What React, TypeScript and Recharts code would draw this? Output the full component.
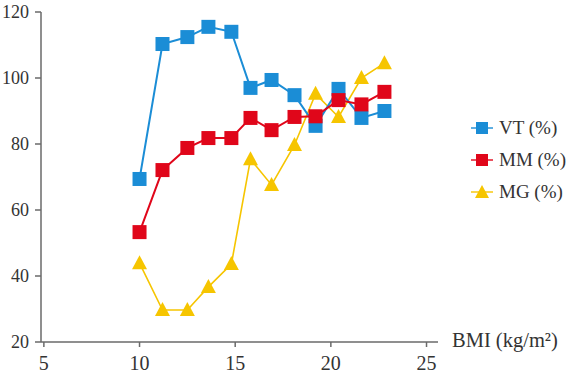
import React from 'react';
import { LineChart, Line, XAxis, YAxis } from 'recharts';

// BMI (kg/m2) and percentages
const bmi = [10, 11.2, 12.5, 13.6, 14.8, 15.8, 16.9, 18.1, 19.2, 20.4, 21.6, 22.8];
const vt = [69.4, 110.3, 112.4, 115.5, 114, 97, 99.4, 94.8, 85.5, 96.7, 87.9, 90];
const mm = [53.3, 72.1, 78.8, 81.8, 81.8, 87.9, 84.2, 88.2, 88.4, 93.3, 92, 95.8];
const mg = [43.9, 29.7, 29.7, 36.7, 43.6, 75.4, 67.6, 79.7, 95.2, 88.2, 100, 104.5];

const xTicks = [5, 10, 15, 20, 25];
const yTicks = [20, 40, 60, 80, 100, 120];

const BLUE = '#1b8dd6';
const RED = '#e0061a';
const YELLOW = '#f6c500';
const AXIS = '#6a6a6a';
const FONT = '"Liberation Serif", "Times New Roman", serif';

const data = bmi.map((b, i) => ({ bmi: b, vt: vt[i], mm: mm[i], mg: mg[i] }));

const squareDot = (color: string) => (props: any) => {
    const { cx, cy, index } = props;
    return <rect key={index} x={cx - 7} y={cy - 7} width={14} height={14} fill={color} />;
};

const triangleDot = (color: string) => (props: any) => {
    const { cx, cy, index } = props;
    return (
        <polygon
            key={index}
            points={`${cx},${cy - 8} ${cx + 7.5},${cy + 6} ${cx - 7.5},${cy + 6}`}
            fill={color}
        />
    );
};

const legendItems = [
    { label: 'VT (%)', color: BLUE, shape: 'square' },
    { label: 'MM (%)', color: RED, shape: 'square' },
    { label: 'MG (%)', color: YELLOW, shape: 'triangle' },
];

export default function App() {
    // pinned to the page corner so the body margin doesn't push it
    return (
        <div style={{ position: 'absolute', left: 0, top: 0, width: 567, height: 375, background: '#fff' }}>
            <LineChart
                width={567}
                height={375}
                data={data}
                margin={{ top: 12, right: 129, bottom: 3, left: 0 }}
                style={{ fontFamily: FONT, overflow: 'visible' }}
            >
                <XAxis
                    dataKey="bmi"
                    type="number"
                    domain={[4.85, 25.6]}
                    ticks={xTicks}
                    allowDataOverflow
                    height={30}
                    stroke={AXIS}
                    strokeWidth={1.5}
                    tickSize={5}
                    tickMargin={9}
                    tick={{ fontSize: 20, fill: '#333', fontFamily: FONT }}
                    label={(props: any) => {
                        const vb = props.viewBox;
                        return (
                            <text
                                x={vb.x + vb.width + 14}
                                y={vb.y - 2}
                                dy="0.35em"
                                fontSize={20.5}
                                fill="#333"
                                fontFamily={FONT}
                            >
                                BMI (kg/m²)
                            </text>
                        );
                    }}
                />
                <YAxis
                    type="number"
                    domain={[20, 120]}
                    ticks={yTicks}
                    width={41}
                    stroke={AXIS}
                    strokeWidth={1.5}
                    tickSize={6}
                    tickMargin={6}
                    tick={{ fontSize: 18, fill: '#333', fontFamily: FONT }}
                />
                <Line
                    type="linear"
                    dataKey="mg"
                    stroke={YELLOW}
                    strokeWidth={1.6}
                    dot={triangleDot(YELLOW)}
                    activeDot={false}
                    isAnimationActive={false}
                />
                <Line
                    type="linear"
                    dataKey="vt"
                    stroke={BLUE}
                    strokeWidth={2}
                    dot={squareDot(BLUE)}
                    activeDot={false}
                    isAnimationActive={false}
                />
                <Line
                    type="linear"
                    dataKey="mm"
                    stroke={RED}
                    strokeWidth={2}
                    dot={squareDot(RED)}
                    activeDot={false}
                    isAnimationActive={false}
                />
            </LineChart>
            <div
                style={{
                    position: 'absolute',
                    left: 471,
                    top: 112,
                    fontFamily: FONT,
                    fontSize: 19,
                    color: '#333',
                    whiteSpace: 'nowrap',
                }}
            >
                {legendItems.map((item) => (
                    <div key={item.label} style={{ display: 'flex', alignItems: 'center', height: 32 }}>
                        <svg width={23} height={16} style={{ marginRight: 5, flexShrink: 0 }}>
                            <line x1={0} y1={8} x2={22} y2={8} stroke={item.color} strokeWidth={1.4} />
                            {item.shape === 'square' ? (
                                <rect x={5} y={2} width={12} height={12} fill={item.color} />
                            ) : (
                                <polygon points="11,1 18,14 4,14" fill={item.color} />
                            )}
                        </svg>
                        <span>{item.label}</span>
                    </div>
                ))}
            </div>
        </div>
    );
}
